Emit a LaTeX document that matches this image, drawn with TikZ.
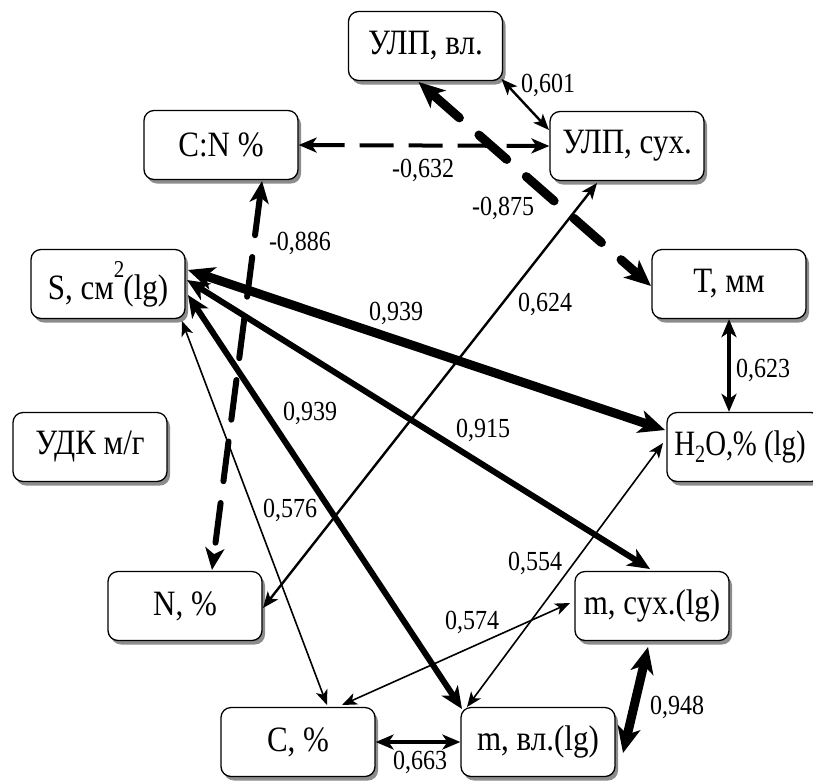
\documentclass[tikz,border=0pt]{standalone}
\usepackage{fontspec}
\usepackage{graphicx}
\setmainfont{Liberation Serif}
\usetikzlibrary{arrows.meta,shadows}
\newcommand\vstr[1]{\scalebox{1}[1.15]{#1}}
\begin{document}
\begin{tikzpicture}[x=1pt,y=-1pt,
  box/.style={draw, line width=1.3pt, rounded corners=10pt, fill=white,
    minimum width=154pt, minimum height=69pt, inner sep=1pt,
    font=\fontsize{31}{36}\selectfont,
    drop shadow={shadow xshift=3pt, shadow yshift=-4pt, opacity=0.45, fill=black}},
  lbl/.style={font=\fontsize{24}{28}\selectfont, inner sep=0pt},
  ea/.style={line width=1.6pt, arrows={Stealth[length=15pt,width=12pt,inset=4pt]-Stealth[length=15pt,width=12pt,inset=4pt]}},
  eb/.style={line width=2.4pt, arrows={Stealth[length=16pt,width=13pt,inset=4pt]-Stealth[length=16pt,width=13pt,inset=4pt]}},
  ec/.style={line width=3.6pt, arrows={Stealth[length=18pt,width=15pt,inset=5pt]-Stealth[length=18pt,width=15pt,inset=5pt]}},
  ed/.style={line width=6pt, arrows={Stealth[length=22pt,width=19pt,inset=6pt]-Stealth[length=22pt,width=19pt,inset=6pt]}},
  ee/.style={line width=9pt, arrows={Stealth[length=26pt,width=23pt,inset=7pt]-Stealth[length=26pt,width=23pt,inset=7pt]}},
]
\useasboundingbox (0,0) rectangle (813,780);

% nodes
\node[box] (ulpvl)  at (425.5,46)  {\vstr{УЛП, вл.}};
\node[box] (ulpsuh) at (627,146)   {\vstr{УЛП, сух.}};
\node[box] (cn)     at (221,145)   {\vstr{C:N \%}};
\node[box] (S)      at (108,284)   {\vstr{S, см\raisebox{0.62em}{\fontsize{21}{21}\selectfont 2}\kern-1pt(lg)}};
\node[box] (T)      at (729,284)   {\vstr{T, мм}};
\node[box] (H)      at (744,447)   {\hspace*{-4pt}\scalebox{0.93}[1.15]{H\textsubscript{2}\kern-0.5ptO,\kern-0.5pt\% (lg)}\hspace*{4pt}};
\node[box] (udk)    at (90,447)    {\vstr{УДК м/г}};
\node[box] (N)      at (185,606)   {\vstr{N, \%}};
\node[box] (msuh)   at (652,606)   {\vstr{m, сух.(lg)}};
\node[box] (mvl)    at (538,742)   {\vstr{m, вл.(lg)}};
\node[box] (C)      at (298,742)   {\vstr{C, \%}};

% solid connectors
\draw[eb] ([shift={(76,33)}]ulpvl.center) -- ([shift={(-78,-16)}]ulpsuh.center);
\draw[ee] ([shift={(80,-14)}]S.center) -- ([shift={(-79,-17)}]H.center);
\draw[ed] ([shift={(79,-4)}]S.center) -- ([shift={(-2,-37)}]msuh.center);
\draw[ed] ([shift={(80,11)}]S.center) -- ([shift={(-76,-33)}]mvl.center);
\draw[ea] ([shift={(74,37)}]S.center) -- ([shift={(29,-37)}]C.center);
\draw[eb] ([shift={(78,2)}]N.center) -- ([shift={(-30,37)}]ulpsuh.center);
\draw[ea] ([shift={(-81,-4)}]H.center) -- ([shift={(-71,-35)}]mvl.center);
\draw[ea] ([shift={(44,-37)}]C.center) -- ([shift={(-82,-3)}]msuh.center);
\draw[ec] (C.east) -- (mvl.west);
\draw[ee] ([shift={(-4,41)}]msuh.center) -- ([shift={(85,11)}]mvl.center);
\draw[ec] (T.south) -- (T.south |- H.north);

% dashed connectors
\draw[ec, line width=4pt, dash pattern=on 34pt off 15pt] (cn.east) -- (ulpsuh.west);
\draw[ee, line cap=round, dash pattern=on 37pt off 26pt] ([shift={(-7,36)}]ulpvl.center) -- ([shift={(-78,2)}]T.center);
\draw[ed, line cap=round, dash pattern=on 40pt off 22pt] ([shift={(41,36)}]cn.center) -- ([shift={(27,-36)}]N.center);

% labels
\node[lbl] (l601) at (548,85)  {\vstr{0,601}};
\node[lbl] (l632) at (423,170) {\vstr{-0,632}};
\node[lbl] (l875) at (503,208) {\vstr{-0,875}};
\node[lbl] (l886) at (300,243) {\vstr{-0,886}};
\node[lbl] (l939a) at (396,313) {\vstr{0,939}};
\node[lbl] (l915) at (483,430) {\vstr{0,915}};
\node[lbl] (l939b) at (310,413) {\vstr{0,939}};
\node[lbl] (l576) at (290,510) {\vstr{0,576}};
\node[lbl] (l624) at (545,304) {\vstr{0,624}};
\node[lbl] (l554) at (535,563) {\vstr{0,554}};
\node[lbl] (l574) at (472,622) {\vstr{0,574}};
\node[lbl] (l663) at (420,762) {\vstr{0,663}};
\node[lbl] (l948) at (677,707) {\vstr{0,948}};
\node[lbl] (l623) at (763,370) {\vstr{0,623}};
\end{tikzpicture}
\end{document}
